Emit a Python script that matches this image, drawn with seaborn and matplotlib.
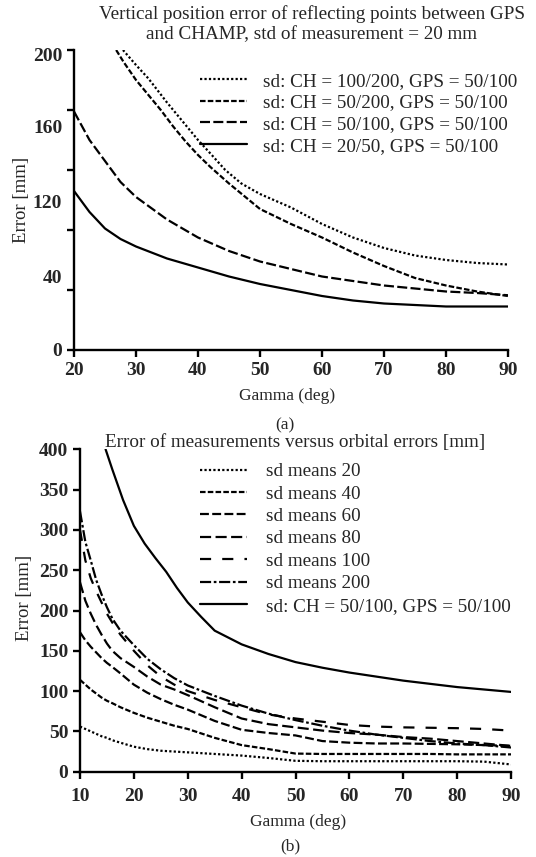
import matplotlib
matplotlib.use("Agg")
import matplotlib.pyplot as plt
import seaborn as sns

# ---- data ----
# (a) vertical position error
gamma_ch100_200 = [27.9, 30, 32, 35, 38, 40, 42, 44.4, 47, 50, 55, 60, 65, 70, 75, 80, 85, 90]
err_ch100_200 = [200, 190, 181, 165, 150, 140, 131, 120, 111, 104, 95, 84, 75, 68, 63, 60, 58, 57]

gamma_ch50_200 = [26.8, 28, 30, 32, 34, 36, 38, 40, 42, 45, 50, 55, 60, 65, 70, 75, 80, 85, 90]
err_ch50_200 = [200, 192, 180, 170, 160, 149, 139, 130, 122, 111, 94, 84, 75, 65, 56, 48, 43, 39, 36]

gamma_a = [20, 22.5, 25, 27.5, 30, 35, 40, 45, 50, 55, 60, 65, 70, 75, 80, 85, 90]
err_ch50_100 = [159, 140, 126, 112, 102, 87, 75, 66, 59, 54, 49, 46, 43, 41, 39, 38, 36.5]
err_ch20_50 = [106, 92, 81, 74, 69, 61, 55, 49, 44, 40, 36, 33, 31, 30, 29, 29, 29]

labels_a = ["sd: CH = 100/200, GPS = 50/100", "sd: CH = 50/200, GPS = 50/100",
            "sd: CH = 50/100, GPS = 50/100", "sd: CH = 20/50, GPS = 50/100"]
ytick_pos_a = [0, 49, 99, 149, 197]
ytick_lab_a = ["0", "40", "120", "160", "200"]

# (b) measurement error vs orbital error
gamma_b = [10, 11, 12, 13, 14, 15, 16, 17.5, 20, 22.5, 25, 27.5, 30, 35, 40, 45, 50, 55, 60, 65, 70, 75, 80, 85, 90]
sd20 = [56, 53, 50, 47, 44, 42, 39, 36, 31, 28, 26, 25, 24, 22, 20, 17, 13.5, 13, 13, 13, 13, 13, 13, 12.5, 9]
sd40 = [114, 108, 102, 97, 92, 88, 85, 80, 73, 67, 62, 57, 53, 42, 33, 28, 22.5, 22, 22, 22, 22, 22, 21.5, 21.5, 21.5]
sd60 = [173, 163, 155, 148, 141, 135, 130, 122, 108, 98, 90, 83, 77, 63, 52, 48, 45, 38, 36, 35, 35, 34.5, 34, 33, 32]
sd80 = [235, 212, 196, 182, 170, 159, 150, 141, 130, 118, 108, 102, 95, 80, 66, 59, 55, 51, 48, 46, 43, 41, 38, 35, 32]
sd100 = [300, 262, 240, 224, 210, 196, 185, 170, 150, 132, 118, 108, 100, 89, 80, 71, 66, 62, 58, 56, 55, 54.5, 54, 53, 51]
sd200 = [323, 285, 262, 238, 220, 204, 190, 175, 157, 140, 127, 116, 107, 94, 82, 72, 64, 57, 51, 46, 42, 38, 35, 33, 30]

gamma_sol = [14.75, 16, 18, 20, 22, 24, 26, 28, 30, 32.5, 35, 40, 45, 50, 55, 60, 65, 70, 75, 80, 85, 90]
err_sol = [400, 375, 337, 305, 283, 265, 248, 228, 210, 192, 175, 158, 146, 136, 129, 123, 118, 113, 109, 105, 102, 99]

labels_b = ["sd means 20", "sd means 40", "sd means 60", "sd means 80",
            "sd means 100", "sd means 200", "sd: CH = 50/100, GPS = 50/100"]

# ---- style ----
sns.set_style("ticks")
plt.rcParams['font.family'] = ['Liberation Serif', 'DejaVu Serif']
plt.rcParams['font.size'] = 12

fig = plt.figure(figsize=(5.36, 8.57), dpi=100)
ax1 = fig.add_axes([74 / 536, 1 - 350 / 857, 434 / 536, 300 / 857])
ax2 = fig.add_axes([80 / 536, 1 - 771.7 / 857, 431 / 536, 322.4 / 857])


def draw(ax, x, y, label, dashes):
    sns.lineplot(x=x, y=y, ax=ax, color='black', linewidth=1.6, label=label)
    line = ax.lines[-1]
    if dashes is not None:
        line.set_dashes(dashes)


def style_axes(ax):
    for s in ['top', 'right']:
        ax.spines[s].set_visible(False)
    for s in ['left', 'bottom']:
        ax.spines[s].set_linewidth(1.7)
        ax.spines[s].set_color('black')
    ax.tick_params(which='major', length=5, width=1.7, color='black', labelsize=14)
    for t in ax.get_xticklabels() + ax.get_yticklabels():
        t.set_fontweight('bold')


# ---- (a) ----
draw(ax1, gamma_ch100_200, err_ch100_200, labels_a[0], (1, 1))
draw(ax1, gamma_ch50_200, err_ch50_200, labels_a[1], (2.5, 1))
draw(ax1, gamma_a, err_ch50_100, labels_a[2], (4.5, 1.5))
draw(ax1, gamma_a, err_ch20_50, labels_a[3], None)
ax1.set_xlim(20, 90)
ax1.set_ylim(0, 200)
ax1.set_xticks(range(20, 91, 10))
ax1.yaxis.remove_overlapping_locs = False
ax1.set_yticks(range(0, 201, 40))
ax1.set_yticklabels([])
ax1.set_yticks(ytick_pos_a, minor=True)
ax1.set_yticklabels(ytick_lab_a, minor=True)
style_axes(ax1)
ax1.tick_params(axis='y', which='minor', length=0, pad=8.5, labelsize=14)
for t in ax1.get_yticklabels(minor=True):
    t.set_fontweight('bold')
ax1.set_xlabel("Gamma (deg)", fontsize=12.5)
ax1.xaxis.set_label_coords(0.49, -0.127)
ax1.set_ylabel("Error [mm]", fontsize=13.5)
ax1.yaxis.set_label_coords(-0.102, 0.5)
ax1.text(0.485, -0.25, "(a)", transform=ax1.transAxes, ha='center', va='center', fontsize=12.5)
ax1.text(0.548, 1.085, "Vertical position error of reflecting points between GPS\nand CHAMP, std of measurement = 20 mm",
         transform=ax1.transAxes, ha='center', va='center', fontsize=13.8, linespacing=1.25)
ax1.legend(loc='upper left', bbox_to_anchor=(0.29, 0.925), frameon=False, fontsize=13.8,
           handlelength=2.45, handletextpad=0.83, labelspacing=0.22, borderpad=0, borderaxespad=0)

# ---- (b) ----
draw(ax2, gamma_b, sd20, labels_b[0], (1, 1))
draw(ax2, gamma_b, sd40, labels_b[1], (2.5, 1))
draw(ax2, gamma_b, sd60, labels_b[2], (4, 1.5))
draw(ax2, gamma_b, sd80, labels_b[3], (5, 2))
draw(ax2, gamma_b, sd100, labels_b[4], (5, 5))
draw(ax2, gamma_b, sd200, labels_b[5], (5, 1.2, 1.2, 1.2))
draw(ax2, gamma_sol, err_sol, labels_b[6], None)
ax2.set_xlim(10, 90)
ax2.set_ylim(0, 400)
ax2.set_xticks(range(10, 91, 10))
ax2.set_yticks(range(0, 401, 50))
style_axes(ax2)
ax2.tick_params(axis='x', pad=7)
ax2.set_xlabel("Gamma (deg)", fontsize=12.5)
ax2.xaxis.set_label_coords(0.505, -0.131)
ax2.set_ylabel("Error [mm]", fontsize=13.5)
ax2.yaxis.set_label_coords(-0.108, 0.54)
ax2.text(0.487, -0.233, "(b)", transform=ax2.transAxes, ha='center', va='center', fontsize=12.5)
ax2.text(0.498, 1.02, "Error of measurements versus orbital errors [mm]",
         transform=ax2.transAxes, ha='center', va='center', fontsize=13.8)
ax2.legend(loc='upper left', bbox_to_anchor=(0.278, 0.958), frameon=False, fontsize=13.8,
           handlelength=2.45, handletextpad=1.0, labelspacing=0.26, borderpad=0, borderaxespad=0)

fig.savefig("out.png", dpi=100)
